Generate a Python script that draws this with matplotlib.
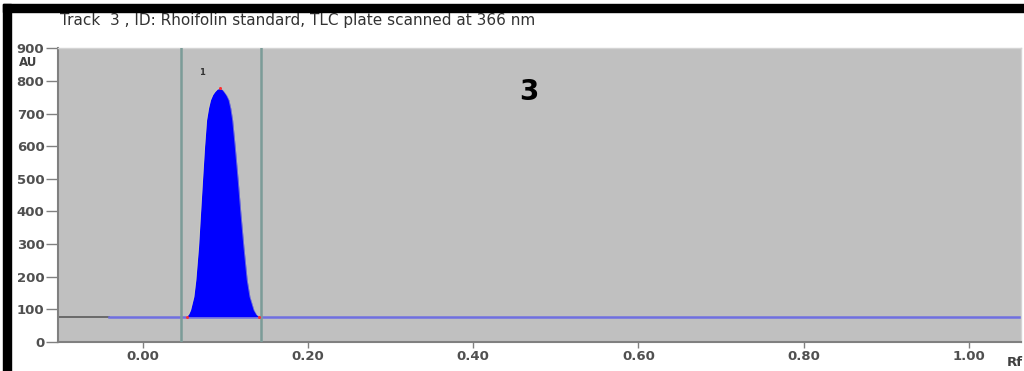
import matplotlib.pyplot as plt
import numpy as np
from matplotlib.patches import Rectangle

# peak contour (Rf, AU)
peak_rf = [0.0533, 0.0560, 0.0581, 0.0621, 0.0645, 0.0678, 0.0702, 0.0726, 0.0751, 0.0775,
           0.0800, 0.0823, 0.0850, 0.0875, 0.0905, 0.0936, 0.0965, 0.0988, 0.1018, 0.1045,
           0.1068, 0.1090, 0.1121, 0.1157, 0.1190, 0.1226, 0.1266, 0.1299, 0.1348, 0.1380,
           0.1412]
peak_au = [78, 86, 98, 139, 190, 292, 394, 496, 599, 680,
           718, 742, 758, 767, 775, 777, 774, 767, 756, 742,
           716, 680, 599, 496, 394, 292, 190, 139, 98, 84,
           78]

baseline_au = 78
baseline_start = -0.04     # blue part of the baseline starts here
peak_bounds = [0.0464, 0.1428]
peak_top = (0.0936, 777)

x_ticks = [0.0, 0.2, 0.4, 0.6, 0.8, 1.0]
x_labels = ["0.00", "0.20", "0.40", "0.60", "0.80", "1.00"]
y_ticks = [0, 100, 200, 300, 400, 500, 600, 700, 800, 900]

title = "Track  3 , ID: Rhoifolin standard, TLC plate scanned at 366 nm"

fig = plt.figure(figsize=(10.24, 3.71), dpi=100)
ax = fig.add_axes([0.0569, 0.0782, 0.9401, 0.7916])
ax.set_facecolor("#c0c0c0")
ax.set_xlim(-0.102, 1.063)
ax.set_ylim(0, 900)

# baseline: grey before the scan start, blue afterwards
ax.plot([-0.102, baseline_start], [baseline_au, baseline_au], color="#5a5a5a", lw=1.2, zorder=2)
ax.plot([baseline_start, 1.063], [baseline_au, baseline_au], color="#6f6fe0", lw=1.8, zorder=2)

# peak boundaries
for xb in peak_bounds:
    ax.axvline(xb, color="#7b9c98", lw=1.8, zorder=3)

# filled peak
ax.fill_between(peak_rf, baseline_au, peak_au, color="#0000ff", lw=0, zorder=4)
ax.plot(peak_rf, peak_au, color="#d8d8b0", lw=0.6, alpha=0.5, zorder=4)
ax.plot([peak_rf[0], peak_rf[-1], peak_top[0]], [peak_au[0], peak_au[-1], peak_top[1]],
        "o", color="#ff3030", ms=2.2, mew=0, zorder=5)

ax.text(0.072, 827, "1", fontsize=6, fontweight="bold", color="#333333",
        ha="center", va="center")
ax.text(0.467, 766, "3", fontsize=20, fontweight="bold", color="black",
        ha="center", va="center")

ax.set_xticks(x_ticks)
ax.set_xticklabels(x_labels)
ax.set_yticks(y_ticks)
ax.tick_params(axis="y", length=9, width=1, color="#808080", labelsize=9.5,
               labelcolor="#505050", pad=1)
ax.tick_params(axis="x", length=4, width=1, color="#808080", labelsize=9.5,
               labelcolor="#505050", pad=2)
for lab in ax.get_xticklabels() + ax.get_yticklabels():
    lab.set_fontweight("bold")

for side in ["left", "bottom"]:
    ax.spines[side].set_color("#808080")
    ax.spines[side].set_linewidth(1.5)
for side in ["top", "right"]:
    ax.spines[side].set_color("#d4d4d4")
    ax.spines[side].set_linewidth(1.0)

fig.text(60 / 1024, 1 - 20 / 371, title, fontsize=11, color="#333333",
         ha="left", va="center")
fig.text(28 / 1024, 1 - 62 / 371, "AU", fontsize=8.5, fontweight="bold",
         color="#404040", ha="center", va="center")
fig.text(1007 / 1024, 1 - 363 / 371, "Rf", fontsize=9.5, fontweight="bold",
         color="#404040", ha="left", va="center")

# black frame on top and left
fig.patches.append(Rectangle((3 / 1024, 1 - 12 / 371), 1, 8 / 371,
                             transform=fig.transFigure, color="black", zorder=10))
fig.patches.append(Rectangle((3 / 1024, 0), 8 / 1024, 1 - 4 / 371,
                             transform=fig.transFigure, color="black", zorder=10))

fig.savefig("out.png", dpi=100)
